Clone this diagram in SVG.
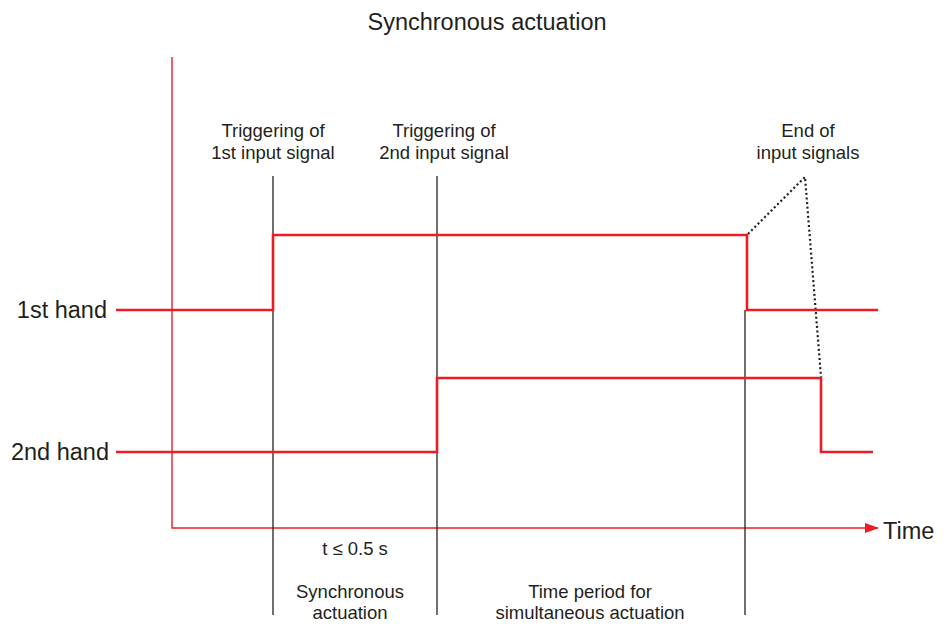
<svg xmlns="http://www.w3.org/2000/svg" width="948" height="628" viewBox="0 0 948 628">
<style>
text{font-family:"Liberation Sans",Arial,sans-serif;fill:#231f20}
.s{font-size:18.5px}
.l{font-size:23.5px}
.sig{fill:none;stroke:#ed1c24;stroke-width:2.6}
.ax{fill:none;stroke:#ed1c24;stroke-width:1.4}
.mk{fill:none;stroke:#231f20;stroke-width:1.3}
.dot{fill:none;stroke:#231f20;stroke-width:2.2;stroke-dasharray:2 2.6}
</style>
<defs>
<marker id="arr" markerWidth="14" markerHeight="10" refX="13" refY="5" orient="auto" markerUnits="userSpaceOnUse">
<path d="M0,0 L14,5 L0,10 Z" fill="#ed1c24"/>
</marker>
</defs>
<rect width="948" height="628" fill="#fff"/>
<text class="l" x="487" y="30" text-anchor="middle">Synchronous actuation</text>
<g id="connectors">
<path class="ax" d="M172,57 V528 H878" marker-end="url(#arr)"/>
<line class="mk" x1="273" y1="176" x2="273" y2="615"/>
<line class="mk" x1="437" y1="176" x2="437" y2="615"/>
<line class="mk" x1="745" y1="310" x2="745" y2="615"/>
<path class="dot" d="M748,234 L805,177 L821,377"/>
</g>
<g id="hand1">
<text class="l" x="107" y="318" text-anchor="end">1st hand</text>
<path class="sig" d="M116,310 H273 V235 H747 V310 H878"/>
</g>
<g id="hand2">
<text class="l" x="109" y="460" text-anchor="end">2nd hand</text>
<path class="sig" d="M116,452 H437 V378 H821 V452 H873"/>
</g>
<g id="trigger1">
<text class="s" x="273" y="137" text-anchor="middle">Triggering of</text>
<text class="s" x="273" y="159" text-anchor="middle">1st input signal</text>
</g>
<g id="trigger2">
<text class="s" x="444" y="137" text-anchor="middle">Triggering of</text>
<text class="s" x="444" y="159" text-anchor="middle">2nd input signal</text>
</g>
<g id="end">
<text class="s" x="808" y="137" text-anchor="middle">End of</text>
<text class="s" x="808" y="159" text-anchor="middle">input signals</text>
</g>
<g id="time">
<text class="l" x="883" y="539">Time</text>
</g>
<g id="sync">
<text class="s" x="355" y="555" text-anchor="middle">t ≤ 0.5 s</text>
<text class="s" x="350" y="598" text-anchor="middle">Synchronous</text>
<text class="s" x="350" y="619" text-anchor="middle">actuation</text>
</g>
<g id="simul">
<text class="s" x="590" y="598" text-anchor="middle">Time period for</text>
<text class="s" x="590" y="619" text-anchor="middle">simultaneous actuation</text>
</g>
</svg>
